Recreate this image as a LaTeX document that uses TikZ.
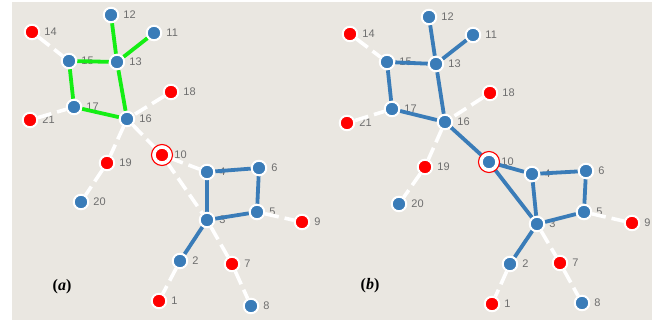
\documentclass[tikz,border=0pt]{standalone}
\usepackage{fontspec}
\setmainfont{Liberation Serif}
\setsansfont{Liberation Sans}
\usetikzlibrary{positioning}

% colours
\definecolor{panel}{HTML}{EAE7E1}
\definecolor{nblue}{HTML}{3A7CB8}
\definecolor{nred}{HTML}{FF0000}
\definecolor{ngreen}{HTML}{14EE14}
\definecolor{ntext}{HTML}{6E6E6E}

% layers: labels under links, links under nodes
\pgfdeclarelayer{back}
\pgfdeclarelayer{links}
\pgfsetlayers{back,links,main}

\begin{document}
\begin{tikzpicture}[x=1pt, y=-1pt,
    bnode/.style={circle, inner sep=0pt, minimum size=14.5pt, fill=nblue, draw=white, line width=2pt},
    rnode/.style={bnode, fill=nred},
    ring/.style={circle, inner sep=0pt, minimum size=21pt, fill=white, draw=nred, line width=1.1pt},
    lbl/.style={inner sep=0pt, text=ntext, font=\sffamily\fontsize{11}{13}\selectfont},
    blink/.style={draw=nblue, line width=3.8pt},
    glink/.style={draw=ngreen, line width=3.8pt},
    wlink/.style={draw=white, line width=3.6pt, dash pattern=on 14pt off 6pt},
    tag/.style={inner sep=0pt, font=\bfseries\fontsize{16}{18}\selectfont}]
    \useasboundingbox (0,0) rectangle (665,320);

    % ---------------- panel (a) ----------------
    \node[ring] (A10r) at (162,155) {};
    \node[rnode] (A1)  at (159,301) {};
    \node[bnode] (A2)  at (180,261) {};
    \node[bnode] (A3)  at (207,220) {};
    \node[bnode] (A4)  at (207,172) {};
    \node[bnode] (A5)  at (257,212) {};
    \node[bnode] (A6)  at (259,168) {};
    \node[rnode] (A7)  at (232,264) {};
    \node[bnode] (A8)  at (251,306) {};
    \node[rnode] (A9)  at (302,222) {};
    \node[rnode] (A10) at (162,155) {};
    \node[bnode] (A11) at (154,33) {};
    \node[bnode] (A12) at (111,15) {};
    \node[bnode] (A13) at (117,62) {};
    \node[rnode] (A14) at (32,32) {};
    \node[bnode] (A15) at (69,61) {};
    \node[bnode] (A16) at (127,119) {};
    \node[bnode] (A17) at (74,107) {};
    \node[rnode] (A18) at (171,92) {};
    \node[rnode] (A19) at (107,163) {};
    \node[bnode] (A20) at (81,202) {};
    \node[rnode] (A21) at (30,120) {};
    \node[tag] (Atag) at (62,287) {(\textit{a})};

    % ---------------- panel (b) ----------------
    \node[ring] (B10r) at (489,162) {};
    \node[rnode] (B1)  at (492,304) {};
    \node[bnode] (B2)  at (510,264) {};
    \node[bnode] (B3)  at (537,224) {};
    \node[bnode] (B4)  at (532,174) {};
    \node[bnode] (B5)  at (584,212) {};
    \node[bnode] (B6)  at (586,171) {};
    \node[rnode] (B7)  at (560,263) {};
    \node[bnode] (B8)  at (582,303) {};
    \node[rnode] (B9)  at (632,223) {};
    \node[bnode] (B10) at (489,162) {};
    \node[bnode] (B11) at (473,35) {};
    \node[bnode] (B12) at (429,17) {};
    \node[bnode] (B13) at (436,64) {};
    \node[rnode] (B14) at (350,34) {};
    \node[bnode] (B15) at (387,62) {};
    \node[bnode] (B16) at (445,122) {};
    \node[bnode] (B17) at (392,109) {};
    \node[rnode] (B18) at (490,93) {};
    \node[rnode] (B19) at (425,167) {};
    \node[bnode] (B20) at (399,204) {};
    \node[rnode] (B21) at (347,123) {};
    \node[tag] (Btag) at (370,286) {(\textit{b})};

    % background and number labels
    \begin{pgfonlayer}{back}
        \fill[panel] (12,2) rectangle (652,320);
        \node[lbl, right=4pt of A1]  (A1t)  {1};
        \node[lbl, right=4pt of A2]  (A2t)  {2};
        \node[lbl, right=4pt of A3]  (A3t)  {3};
        \node[lbl, right=4pt of A4]  (A4t)  {4};
        \node[lbl, right=4pt of A5]  (A5t)  {5};
        \node[lbl, right=4pt of A6]  (A6t)  {6};
        \node[lbl, right=4pt of A7]  (A7t)  {7};
        \node[lbl, right=4pt of A8]  (A8t)  {8};
        \node[lbl, right=4pt of A9]  (A9t)  {9};
        \node[lbl, right=4pt of A10] (A10t) {10};
        \node[lbl, right=4pt of A11] (A11t) {11};
        \node[lbl, right=4pt of A12] (A12t) {12};
        \node[lbl, right=4pt of A13] (A13t) {13};
        \node[lbl, right=4pt of A14] (A14t) {14};
        \node[lbl, right=4pt of A15] (A15t) {15};
        \node[lbl, right=4pt of A16] (A16t) {16};
        \node[lbl, right=4pt of A17] (A17t) {17};
        \node[lbl, right=4pt of A18] (A18t) {18};
        \node[lbl, right=4pt of A19] (A19t) {19};
        \node[lbl, right=4pt of A20] (A20t) {20};
        \node[lbl, right=4pt of A21] (A21t) {21};
        \node[lbl, right=4pt of B1]  (B1t)  {1};
        \node[lbl, right=4pt of B2]  (B2t)  {2};
        \node[lbl, right=4pt of B3]  (B3t)  {3};
        \node[lbl, right=4pt of B4]  (B4t)  {4};
        \node[lbl, right=4pt of B5]  (B5t)  {5};
        \node[lbl, right=4pt of B6]  (B6t)  {6};
        \node[lbl, right=4pt of B7]  (B7t)  {7};
        \node[lbl, right=4pt of B8]  (B8t)  {8};
        \node[lbl, right=4pt of B9]  (B9t)  {9};
        \node[lbl, right=4pt of B10] (B10t) {10};
        \node[lbl, right=4pt of B11] (B11t) {11};
        \node[lbl, right=4pt of B12] (B12t) {12};
        \node[lbl, right=4pt of B13] (B13t) {13};
        \node[lbl, right=4pt of B14] (B14t) {14};
        \node[lbl, right=4pt of B15] (B15t) {15};
        \node[lbl, right=4pt of B16] (B16t) {16};
        \node[lbl, right=4pt of B17] (B17t) {17};
        \node[lbl, right=4pt of B18] (B18t) {18};
        \node[lbl, right=4pt of B19] (B19t) {19};
        \node[lbl, right=4pt of B20] (B20t) {20};
        \node[lbl, right=4pt of B21] (B21t) {21};
    \end{pgfonlayer}

    \begin{pgfonlayer}{links}
        % (a) upper cluster in green
        \draw[glink] (A12) -- (A13);
        \draw[glink] (A11) -- (A13);
        \draw[glink] (A15) -- (A13);
        \draw[glink] (A15) -- (A17);
        \draw[glink] (A13) -- (A16);
        \draw[glink] (A17) -- (A16);
        % (a) lower cluster in blue
        \draw[blink] (A4) -- (A6);
        \draw[blink] (A6) -- (A5);
        \draw[blink] (A5) -- (A3);
        \draw[blink] (A3) -- (A4);
        \draw[blink] (A3) -- (A2);
        % (a) white links
        \draw[wlink] (A14) -- (A15);
        \draw[wlink] (A21) -- (A17);
        \draw[wlink] (A18) -- (A16);
        \draw[wlink] (A16) -- (A19);
        \draw[wlink] (A16) -- (A10);
        \draw[wlink] (A19) -- (A20);
        \draw[wlink] (A10) -- (A4);
        \draw[wlink] (A10) -- (A3);
        \draw[wlink] (A3) -- (A7);
        \draw[wlink] (A7) -- (A8);
        \draw[wlink] (A5) -- (A9);
        \draw[wlink] (A2) -- (A1);

        % (b) joined tree in blue
        \draw[blink] (B12) -- (B13);
        \draw[blink] (B11) -- (B13);
        \draw[blink] (B15) -- (B13);
        \draw[blink] (B15) -- (B17);
        \draw[blink] (B13) -- (B16);
        \draw[blink] (B17) -- (B16);
        \draw[blink] (B16) -- (B10);
        \draw[blink] (B10) -- (B4);
        \draw[blink] (B10) -- (B3);
        \draw[blink] (B4) -- (B6);
        \draw[blink] (B6) -- (B5);
        \draw[blink] (B5) -- (B3);
        \draw[blink] (B3) -- (B4);
        \draw[blink] (B3) -- (B2);
        % (b) white links
        \draw[wlink] (B14) -- (B15);
        \draw[wlink] (B21) -- (B17);
        \draw[wlink] (B18) -- (B16);
        \draw[wlink] (B16) -- (B19);
        \draw[wlink] (B19) -- (B20);
        \draw[wlink] (B3) -- (B7);
        \draw[wlink] (B7) -- (B8);
        \draw[wlink] (B5) -- (B9);
        \draw[wlink] (B2) -- (B1);
    \end{pgfonlayer}
\end{tikzpicture}
\end{document}
